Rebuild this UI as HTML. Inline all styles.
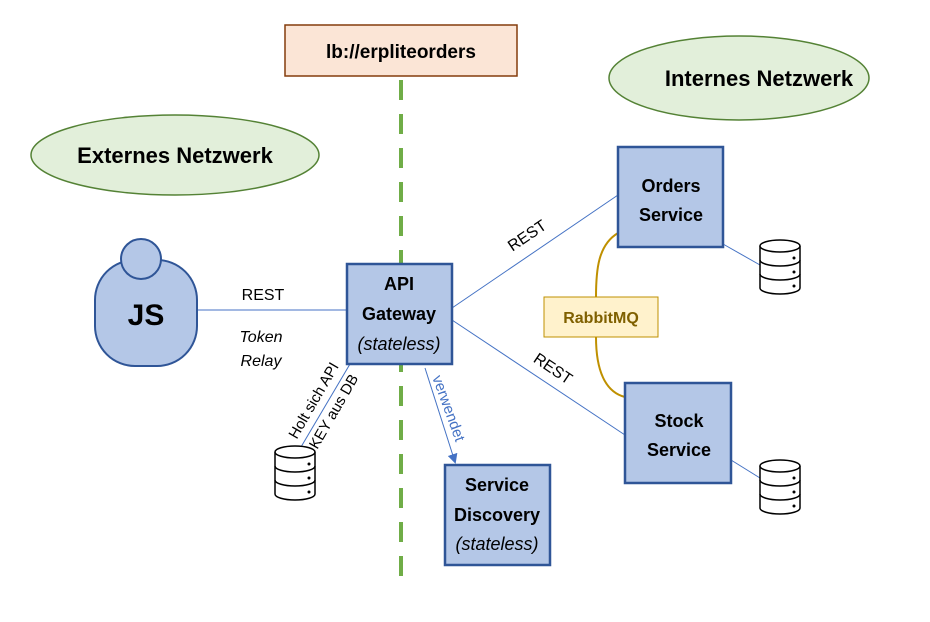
<!DOCTYPE html>
<html><head><meta charset="utf-8"><style>body{margin:0;background:#fff}svg{display:block}text{font-family:"Liberation Sans",sans-serif}</style></head><body>
<svg width="930" height="622" viewBox="0 0 930 622" xmlns="http://www.w3.org/2000/svg">
<defs>
<g id="db">
<path d="M-20,6 v42 a20,6 0 0 0 40,0 v-42" fill="#fff" stroke="#000" stroke-width="1.5"/>
<ellipse cx="0" cy="6" rx="20" ry="6" fill="#fff" stroke="#000" stroke-width="1.5"/>
<path d="M-20,20 a20,6 0 0 0 40,0 M-20,34 a20,6 0 0 0 40,0" fill="none" stroke="#000" stroke-width="1.5"/>
<circle cx="14" cy="18" r="1.5"/><circle cx="14" cy="32" r="1.5"/><circle cx="14" cy="46" r="1.5"/>
</g>
<marker id="ah" markerWidth="10" markerHeight="10" refX="8" refY="5" orient="auto" markerUnits="userSpaceOnUse"><path d="M0,0 L10,5 L0,10 z" fill="#4472c4"/></marker>
</defs>
<line x1="401" y1="80" x2="401" y2="585" stroke="#70ad47" stroke-width="4" stroke-dasharray="20,14"/>
<rect x="285" y="25" width="232" height="51" fill="#fbe5d6" stroke="#843c0c" stroke-width="1.5"/>
<text x="401" y="58" font-size="19" font-weight="bold" text-anchor="middle">lb://erpliteorders</text>
<ellipse cx="739" cy="78" rx="130" ry="42" fill="#e2efda" stroke="#548235" stroke-width="1.5"/>
<text x="759" y="86" font-size="22" font-weight="bold" text-anchor="middle">Internes Netzwerk</text>
<ellipse cx="175" cy="155" rx="144" ry="40" fill="#e2efda" stroke="#548235" stroke-width="1.5"/>
<text x="175" y="163" font-size="22" font-weight="bold" text-anchor="middle">Externes Netzwerk</text>
<g stroke="#4472c4" stroke-width="1" fill="none">
<line x1="197" y1="310" x2="347" y2="310"/>
<line x1="452" y1="308" x2="618" y2="195"/>
<line x1="452" y1="320" x2="625" y2="435"/>
<line x1="350" y1="364" x2="301" y2="447"/>
<line x1="723" y1="244" x2="760" y2="265"/>
<line x1="731" y1="460" x2="760" y2="478"/>
<line x1="425" y1="368" x2="455" y2="462" marker-end="url(#ah)"/>
</g>
<path d="M618,233 C598,245 596,270 596,297 M596,337 C596,370 605,392 625,397" fill="none" stroke="#bf9000" stroke-width="2"/>
<rect x="95" y="260" width="102" height="106" rx="40" fill="#b4c7e7" stroke="#2f5597" stroke-width="2"/>
<circle cx="141" cy="259" r="20" fill="#b4c7e7" stroke="#2f5597" stroke-width="2"/>
<text x="146" y="325" font-size="30" font-weight="bold" text-anchor="middle">JS</text>
<text x="263" y="300" font-size="16" text-anchor="middle">REST</text>
<text x="261" y="342" font-size="16" font-style="italic" text-anchor="middle">Token</text>
<text x="261" y="366" font-size="16" font-style="italic" text-anchor="middle">Relay</text>
<g fill="#b4c7e7" stroke="#2f5597" stroke-width="2.5">
<rect x="347" y="264" width="105" height="100"/>
<rect x="618" y="147" width="105" height="100"/>
<rect x="625" y="383" width="106" height="100"/>
<rect x="445" y="465" width="105" height="100"/>
</g>
<g font-size="18" font-weight="bold" text-anchor="middle">
<text x="399" y="290">API</text><text x="399" y="320">Gateway</text>
<text x="399" y="350" font-weight="normal" font-style="italic">(stateless)</text>
<text x="671" y="192">Orders</text><text x="671" y="221">Service</text>
<text x="679" y="427">Stock</text><text x="679" y="456">Service</text>
<text x="497" y="491">Service</text><text x="497" y="521">Discovery</text>
<text x="497" y="550" font-weight="normal" font-style="italic">(stateless)</text>
</g>
<rect x="544" y="297" width="114" height="40" fill="#fff2cc" stroke="#bf9000" stroke-width="1"/>
<text x="601" y="323" font-size="16" font-weight="bold" fill="#7f6000" text-anchor="middle">RabbitMQ</text>
<text x="0" y="0" font-size="16" text-anchor="middle" transform="translate(530,240) rotate(-34)">REST</text>
<text x="0" y="0" font-size="16" text-anchor="middle" transform="translate(550,373) rotate(34)">REST</text>
<text x="0" y="0" font-size="15" fill="#4472c4" text-anchor="middle" transform="translate(444,410) rotate(70)">verwendet</text>
<text x="0" y="0" font-size="15" text-anchor="middle" transform="translate(318,403) rotate(-60)">Holt sich API</text>
<text x="0" y="0" font-size="15" text-anchor="middle" transform="translate(338,414) rotate(-60)">KEY aus DB</text>
<use href="#db" x="295" y="446"/>
<use href="#db" x="780" y="240"/>
<use href="#db" x="780" y="460"/>
</svg>
</body></html>
